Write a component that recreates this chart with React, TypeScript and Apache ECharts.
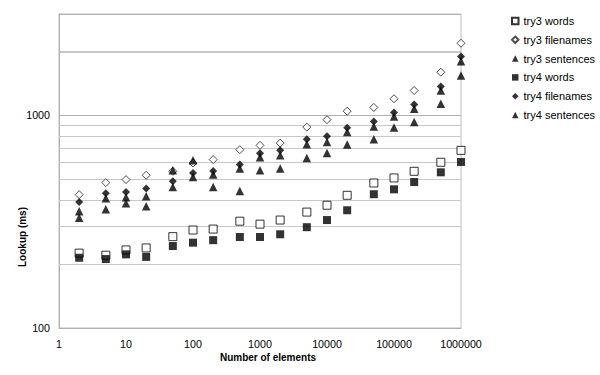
import React, { useEffect, useRef } from "react";
import * as echarts from "echarts";

const X = [2, 5, 10, 20, 50, 100, 200, 500, 1000, 2000, 5000, 10000, 20000, 50000, 100000, 200000, 500000, 1000000];
const try3Words = [225, 220, 233, 238, 269, 289, 292, 318, 308, 322, 351, 378, 421, 481, 508, 546, 602, 685];
const try3Filenames = [424, 483, 499, 523, 546, 597, 620, 690, 723, 741, 881, 955, 1047, 1090, 1198, 1310, 1597, 2185];
const try3Sentences = [354, 408, 412, 417, 552, 615, 528, 562, 635, 649, 731, 749, 835, 888, 989, 1075, 1310, 1799];
const try4Words = [214, 211, 222, 216, 243, 252, 259, 268, 268, 276, 298, 322, 358, 426, 449, 486, 540, 604];
const try4Filenames = [392, 430, 436, 453, 490, 536, 548, 587, 663, 685, 772, 797, 876, 937, 1033, 1126, 1368, 1892];
const try4Sentences = [330, 362, 386, 374, 461, 513, 461, 441, 552, 562, 630, 665, 729, 772, 878, 930, 1135, 1541];

const Y_LABELS = [100, 1000];
const GRID_MINOR = [200, 300, 400, 500, 600, 700, 800, 900];
const GRID_MAJOR = [2000];

const FONT = "Liberation Sans, Arial, sans-serif";

const pts = (ys: number[]) => X.map((x, i) => [x, ys[i]]);

export default function App() {
  const ref = useRef<HTMLDivElement>(null);
  useEffect(() => {
    if (!ref.current) return;
    const chart = echarts.init(ref.current, undefined, { renderer: "svg" });
    const open = { color: "#ffffff", borderColor: "#000000", borderWidth: 1 };
    const filled = { color: "#000000" };
    chart.setOption({
      animation: false,
      backgroundColor: "#ffffff",
      grid: { left: 59, right: 139, top: 14, bottom: 47, show: true, borderColor: "#bdbdbd", borderWidth: 1 },
      legend: {
        orient: "vertical",
        left: 506,
        top: 9.5,
        itemWidth: 6.5,
        itemHeight: 6.5,
        itemGap: 5.8,
        textStyle: { fontFamily: FONT, fontSize: 11, color: "#000", lineHeight: 13 },
        data: ["try3 words", "try3 filenames", "try3 sentences", "try4 words", "try4 filenames", "try4 sentences"],
      },
      xAxis: {
        type: "log",
        logBase: 10,
        min: 1,
        max: 1000000,
        axisLine: { lineStyle: { color: "#b0b0b0" } },
        axisTick: { show: false },
        splitLine: { show: false },
        axisLabel: {
          fontFamily: FONT,
          fontSize: 10.7,
          color: "#000",
          margin: 10,
          formatter: (v: number) => String(Math.round(v)),
        },
      },
      yAxis: {
        type: "log",
        logBase: 10,
        min: 100,
        max: 3000,
        axisLine: { show: true, lineStyle: { color: "#b0b0b0" } },
        axisTick: { show: false },
        splitLine: { show: true, lineStyle: { color: "#b0b0b0", width: 1 } },
        axisLabel: {
          fontFamily: FONT,
          fontSize: 10.7,
          color: "#000",
          margin: 9,
          formatter: (v: number) => (Y_LABELS.includes(Math.round(v)) ? String(Math.round(v)) : ""),
        },
      },
      graphic: [
        {
          type: "text",
          x: 22,
          y: 237,
          rotation: Math.PI / 2,
          style: { text: "Lookup (ms)", font: `bold 10px ${FONT}`, fill: "#000", align: "center", verticalAlign: "middle" },
        },
        {
          type: "text",
          x: 268,
          y: 357,
          style: { text: "Number of elements", font: `bold 10px ${FONT}`, fill: "#000", align: "center", verticalAlign: "middle" },
        },
      ],
      series: [
        {
          name: "try3 words",
          type: "scatter",
          symbol: "rect",
          symbolSize: 8,
          itemStyle: open,
          data: pts(try3Words),
          markLine: {
            silent: true,
            z: 1,
            symbol: ["none", "none"],
            label: { show: false },
            data: [
              ...GRID_MINOR.map((v) => ({ yAxis: v, lineStyle: { color: "#c8c8c8", width: 1, type: "solid" } })),
              ...GRID_MAJOR.map((v) => ({ yAxis: v, lineStyle: { color: "#b4b4b4", width: 1.6, type: "solid" } })),
            ],
          },
        },
        { name: "try3 filenames", type: "scatter", symbol: "diamond", symbolSize: 8, itemStyle: { ...open, borderColor: "#222" }, data: pts(try3Filenames) },
        { name: "try3 sentences", type: "scatter", symbol: "triangle", symbolSize: 8.5, itemStyle: filled, data: pts(try3Sentences) },
        { name: "try4 words", type: "scatter", symbol: "rect", symbolSize: 8, itemStyle: filled, data: pts(try4Words) },
        { name: "try4 filenames", type: "scatter", symbol: "diamond", symbolSize: 8, itemStyle: filled, data: pts(try4Filenames) },
        { name: "try4 sentences", type: "scatter", symbol: "triangle", symbolSize: 8.5, itemStyle: filled, data: pts(try4Sentences) },
      ],
    });
    return () => chart.dispose();
  }, []);
  return <div ref={ref} style={{ width: 600, height: 375, position: "absolute", left: 0, top: 0 }} />;
}
